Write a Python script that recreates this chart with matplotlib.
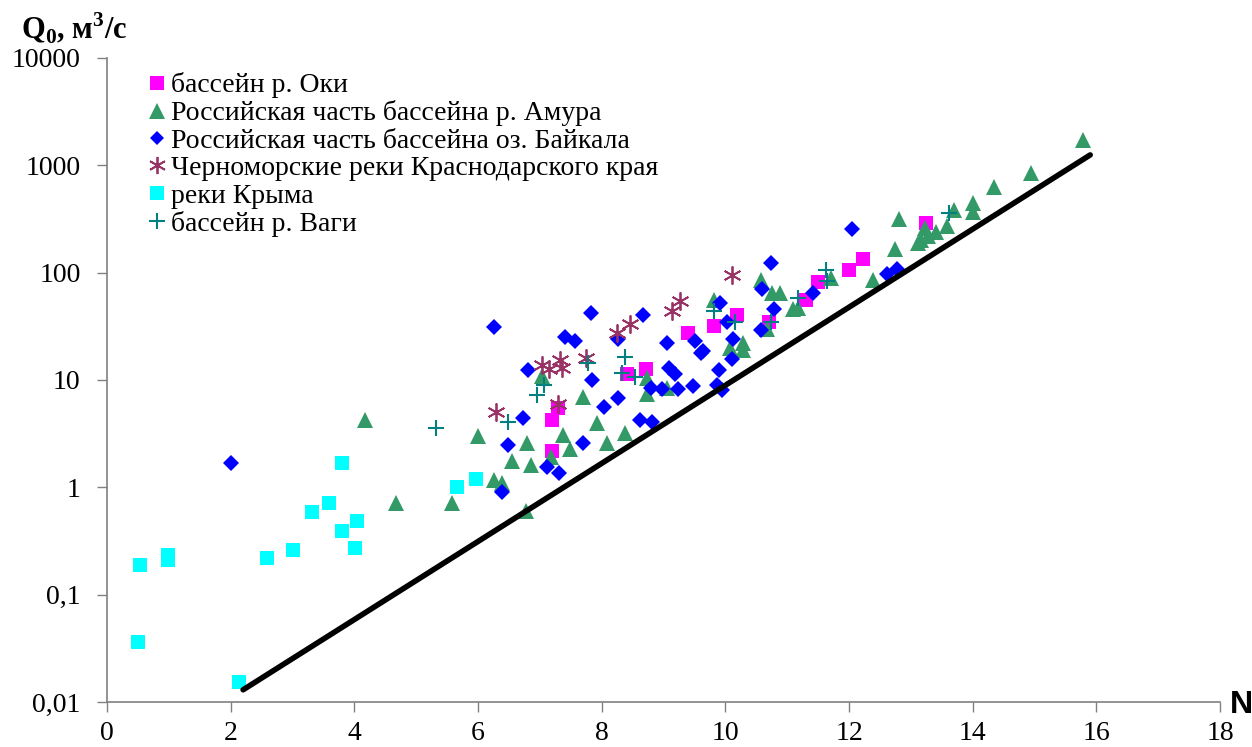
import matplotlib.pyplot as plt
from matplotlib.ticker import FixedLocator, NullLocator

# --- data ---
oka_x = [7.2, 7.2, 7.3, 8.41, 8.71, 9.40, 9.81, 10.19, 10.70, 11.31, 11.5, 12.0, 12.22, 13.24]
oka_y = [2.2, 4.2, 5.5, 11.4, 12.6, 27.5, 32, 40, 35, 56, 81, 107, 135, 288]

amur_x = [4.17, 4.68, 5.58, 6.0, 6.25, 6.38, 6.55, 6.79, 6.86, 6.78, 7.04, 7.38, 7.49, 7.18,
          7.70, 7.93, 8.09, 8.38, 8.74, 8.74, 9.05, 9.81, 10.07, 10.28, 10.29, 10.57, 10.76,
          10.89, 11.1, 11.17, 10.68, 11.7, 12.39, 12.75, 12.8, 13.11, 13.16, 13.22, 13.27,
          13.40, 13.58, 13.69, 14.01, 14.01, 14.35, 14.94, 15.79]
amur_y = [4.2, 0.71, 0.71, 3.0, 1.16, 1.1, 1.75, 2.6, 1.6, 0.6, 11, 3.1, 2.3, 1.9,
          7.0, 4.0, 2.6, 3.2, 10.4, 7.4, 8.4, 56, 20, 22, 19, 85, 65,
          65, 46, 47, 30, 90, 85, 167, 318, 190, 200, 260, 220,
          240, 270, 380, 450, 370, 630, 855, 1710]

baikal_x = [2.0, 6.25, 6.39, 6.49, 6.73, 6.81, 7.12, 7.31, 7.41, 7.57, 7.70, 7.83, 7.85, 8.04,
            8.27, 8.27, 8.62, 8.67, 8.79, 8.82, 8.98, 9.05, 9.08, 9.19, 9.24, 9.47, 9.51, 9.6,
            9.64, 9.87, 9.92, 9.95, 10.03, 10.1, 10.13, 9.9, 10.57, 10.6, 10.74, 10.78, 11.42,
            12.04, 12.62, 12.78]
baikal_y = [1.67, 31, 0.9, 2.5, 4.4, 12.4, 1.54, 1.35, 25, 23, 2.6, 42, 10, 5.6,
            24, 6.8, 4.2, 40, 8.5, 4.1, 8.3, 22, 13, 11.4, 8.3, 8.8, 23, 18,
            18.6, 9, 52, 8, 35, 15.8, 24, 12.4, 29, 71, 124, 46, 65,
            257, 98, 109]

black_sea_x = [6.29, 7.04, 7.14, 7.33, 7.36, 7.30, 7.74, 8.24, 8.46, 9.13, 9.26, 10.1]
black_sea_y = [5.0, 13.8, 12.6, 15.4, 13, 6.0, 16, 27.5, 33, 44, 55, 96]

crimea_x = [0.5, 0.53, 0.99, 0.99, 2.14, 2.59, 3.0, 3.32, 3.59, 3.8, 3.8, 4.01, 4.05, 5.66, 5.97]
crimea_y = [0.036, 0.19, 0.21, 0.235, 0.0155, 0.22, 0.26, 0.59, 0.71, 1.7, 0.39, 0.27, 0.49, 1.0, 1.19]

vaga_x = [5.32, 6.49, 6.96, 7.06, 7.78, 8.32, 8.38, 8.54, 9.81, 10.16, 10.74, 11.18, 11.63, 11.65, 13.62]
vaga_y = [3.6, 4.1, 7.2, 9, 14.5, 11.7, 16.4, 10.7, 44, 35, 35, 58, 107, 83, 363]

line_x = [2.2, 15.9]
line_y = [0.013, 1250]

labels = ["бассейн р. Оки",
          "Российская часть бассейна р. Амура",
          "Российская часть бассейна оз. Байкала",
          "Черноморские реки Краснодарского края",
          "реки Крыма",
          "бассейн р. Ваги"]

x_ticks = [0, 2, 4, 6, 8, 10, 12, 14, 16, 18]
y_ticks = [0.01, 0.1, 1, 10, 100, 1000, 10000]
y_tick_labels = ["0,01", "0,1", "1", "10", "100", "1000", "10000"]

plt.rcParams['font.family'] = ['Liberation Serif', 'DejaVu Serif']

fig = plt.figure(figsize=(12.52, 7.47), dpi=100)
ax = fig.add_axes([0.0855, 0.0602, 0.8890, 0.8622])

ms = 10.5
ax.plot(oka_x, oka_y, 's', color='#FF00FF', ms=ms, mew=0, label=labels[0], zorder=3)
ax.plot(amur_x, amur_y, '^', color='#339966', ms=ms + 1, mew=0, label=labels[1], zorder=4)
ax.plot(baikal_x, baikal_y, 'D', color='#0000FF', ms=ms - 2.5, mew=0, label=labels[2], zorder=5)
ax.plot(black_sea_x, black_sea_y, ls='none', marker=(6, 2, 0), color='#993366', ms=13,
        mew=1.3, label=labels[3], zorder=6)
ax.plot(crimea_x, crimea_y, 's', color='#00FFFF', ms=ms, mew=0, label=labels[4], zorder=7)
ax.plot(vaga_x, vaga_y, '+', color='#008080', ms=11.5, mew=1.5, label=labels[5], zorder=8)
ax.plot(line_x, line_y, '-', color='black', lw=4, solid_capstyle='round', zorder=9)

ax.set_yscale('log')
ax.set_xlim(0, 18)
ax.set_ylim(0.01, 10000)
ax.xaxis.set_major_locator(FixedLocator(x_ticks))
ax.yaxis.set_major_locator(FixedLocator(y_ticks))
ax.yaxis.set_minor_locator(NullLocator())
ax.set_yticklabels(y_tick_labels)
ax.set_xticklabels([str(t) for t in x_ticks])
ax.tick_params(axis='both', direction='out', length=7, width=1, color='#808080',
               labelsize=20)
ax.tick_params(axis='x', pad=7)
ax.tick_params(axis='y', pad=12)

for side in ['top', 'right']:
    ax.spines[side].set_visible(False)
for side in ['left', 'bottom']:
    ax.spines[side].set_color('#808080')
    ax.spines[side].set_linewidth(1.2)

fig.text(0.017, 0.948, r"Q$_\mathregular{0}$, м$^\mathregular{3}$/с", fontsize=22,
         fontweight='bold', ha='left', va='baseline')
fig.text(0.982, 0.045, "N", fontsize=23, fontweight='bold', family='Liberation Sans',
         ha='left', va='baseline')

leg = ax.legend(loc='upper left', bbox_to_anchor=(0.119, 0.903),
                bbox_transform=fig.transFigure, frameon=False, fontsize=20,
                handlelength=0.6, handletextpad=0.2, labelspacing=0.07,
                borderpad=0, borderaxespad=0, markerscale=0.95)

fig.savefig('out.png', dpi=100)
